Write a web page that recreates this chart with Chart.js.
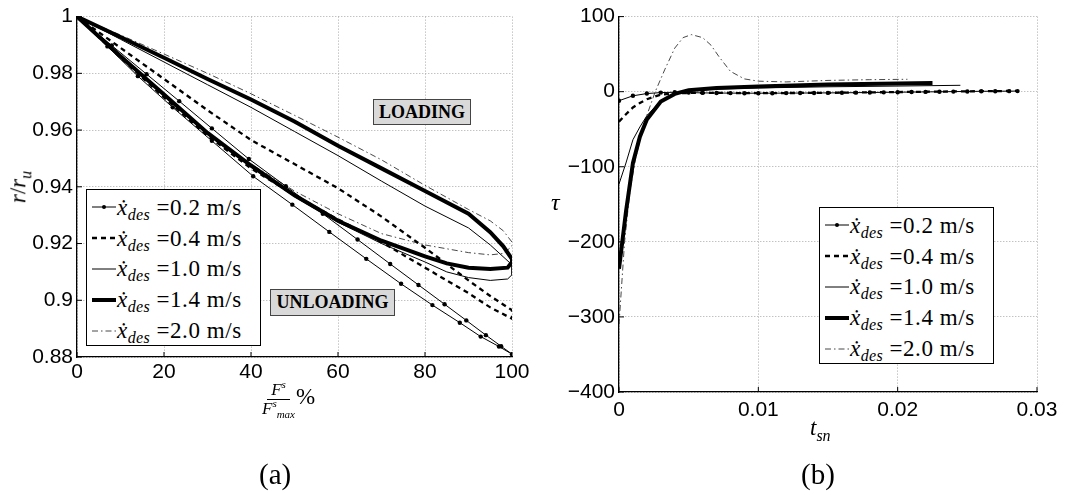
<!DOCTYPE html>
<html>
<head>
<meta charset="utf-8">
<script src="https://cdn.jsdelivr.net/npm/chart.js@4.4.0/dist/chart.umd.min.js"></script>
<style>
  html, body { margin: 0; padding: 0; background: #fff; }
  #wrap { position: relative; width: 1069px; height: 495px; overflow: hidden;
    font-family: "Liberation Serif", "DejaVu Serif", serif; color: #000; }
  canvas { position: absolute; }
  .legend { position: absolute; border: 1.5px solid #000; background: #fff; box-sizing: border-box; padding-top: 2px; }
  .lrow { height: 30.8px; display: flex; align-items: center; padding-left: 5px; white-space: nowrap; }
  .lrow svg { flex: none; margin-right: 1px; }
  .lt { font-size: 23px; line-height: 1; letter-spacing: 0.6px; }
  .lt sub { font-size: 16px; font-style: italic; vertical-align: -5px; line-height: 0; letter-spacing: 0.3px; }
  .tag { position: absolute; background: #d9d9d9; border: 1.3px solid #444; box-sizing: border-box;
    font-weight: bold; font-size: 18px; display: flex; align-items: center; justify-content: center; }
  .lbl { position: absolute; white-space: nowrap; line-height: 1; }
  .frac { display: inline-flex; flex-direction: column; align-items: center; vertical-align: middle; font-size: 17px; margin-right: 1px; }
  .frac .num { border-bottom: 1.4px solid #000; padding: 0 4px 1px; }
  .frac sup, .frac sub { font-size: 11px; font-style: italic; line-height: 0; }
  .cap { position: absolute; font-size: 29px; line-height: 1; }
</style>
</head>
<body>
<div id="wrap">
  <canvas id="chartA" width="540" height="400" style="left:0;top:0"></canvas>
  <canvas id="chartB" width="529" height="420" style="left:540px;top:0"></canvas>

  <div class="tag" style="left:373px;top:99px;width:98px;height:26px">LOADING</div>
  <div class="tag" style="left:270px;top:289px;width:125px;height:27px">UNLOADING</div>

  <div class="legend" id="legA" style="left:86px;top:189px;width:175px;height:157px"></div>
  <div class="legend" id="legB" style="left:819px;top:207px;width:175px;height:157px"></div>

  <div class="lbl" style="left:4px;top:187px;transform:translate(0,-50%) rotate(-90deg);transform-origin:center;font-size:23px">
    <i>r</i>/<i>r</i><sub style="font-size:16px"><i>u</i></sub></div>
  <div class="lbl" style="left:262px;top:381px;font-size:23px">
    <span class="frac"><span class="num"><i>F</i><sup>s</sup></span><span><i>F</i><sup>s</sup><sub>max</sub></span></span>%</div>

  <div class="lbl" style="left:551px;top:190px;font-size:24px"><i>τ</i></div>
  <div class="lbl" style="left:810px;top:416px;font-size:23px"><i>t</i><sub style="font-size:16px"><i>sn</i></sub></div>

  <div class="cap" style="left:259px;top:460px">(a)</div>
  <div class="cap" style="left:801px;top:460px">(b)</div>
</div>

<script>
// ---------- legend ----------
const speeds = ["0.2", "0.4", "1.0", "1.4", "2.0"];

// ---------- (a) r/r_u vs F^s/F^s_max % (loading branch then unloading branch) ----------
const pct02 = [0, 8, 16, 23.5, 31, 39.5, 48, 56.5, 64.5, 72, 78.5, 84.5, 89.5, 94, 97.5, 100,
  97, 92.8, 88, 81.7, 74.5, 66.5, 58, 49.5, 40.5, 31, 22, 14, 7, 0];
const ratio02 = [1, 0.9898, 0.9797, 0.9702, 0.9606, 0.9498, 0.9402, 0.9305, 0.9214, 0.9128, 0.9054, 0.8986, 0.8929, 0.8877, 0.8838, 0.881,
  0.8837, 0.8872, 0.8921, 0.8983, 0.9058, 0.9146, 0.9241, 0.9337, 0.9437, 0.9562, 0.968, 0.979, 0.9895, 1];

const pct04 = [0, 10, 20, 30, 40, 50, 60, 70, 80, 90, 95, 100, 100, 95, 90, 85, 80, 70, 60, 50, 40, 30, 20, 10, 0];
const ratio04 = [1, 0.989, 0.978, 0.967, 0.9565, 0.948, 0.9395, 0.9295, 0.9185, 0.907, 0.9015, 0.8965,
  0.8935, 0.8975, 0.9025, 0.907, 0.9115, 0.9205, 0.9285, 0.937, 0.9465, 0.958, 0.9715, 0.9855, 1];

const pct10 = [0, 10, 20, 30, 40, 50, 60, 70, 80, 90, 95, 100, 100, 99, 95, 90, 85, 80, 70, 60, 50, 40, 30, 20, 10, 0];
const ratio10 = [1, 0.992, 0.984, 0.976, 0.968, 0.9595, 0.951, 0.942, 0.9332, 0.9255, 0.9195, 0.9125,
  0.909, 0.9075, 0.907, 0.908, 0.91, 0.9135, 0.92, 0.9275, 0.9365, 0.947, 0.9585, 0.972, 0.9855, 1];

const pct14 = [0, 10, 20, 30, 40, 50, 60, 70, 80, 90, 95, 98, 100, 100, 99, 95, 90, 85, 80, 70, 60, 50, 40, 30, 20, 10, 0];
const ratio14 = [1, 0.9928, 0.9855, 0.978, 0.9708, 0.963, 0.9545, 0.9465, 0.9385, 0.9305, 0.924, 0.919, 0.9145,
  0.9135, 0.9115, 0.911, 0.9115, 0.913, 0.9155, 0.921, 0.928, 0.937, 0.9475, 0.959, 0.9725, 0.986, 1];

const pct20 = [0, 10, 20, 30, 40, 50, 60, 70, 80, 90, 95, 98, 100, 100, 98, 95, 90, 80, 70, 60, 50, 40, 30, 20, 10, 0];
const ratio20 = [1, 0.9935, 0.9868, 0.98, 0.9728, 0.9652, 0.9575, 0.9495, 0.9405, 0.932, 0.928, 0.9245, 0.9205,
  0.919, 0.9165, 0.916, 0.9168, 0.9195, 0.9235, 0.9305, 0.9385, 0.948, 0.9592, 0.9725, 0.986, 1];

const xTicksA = [0, 20, 40, 60, 80, 100];
const xLabelsA = ["0", "20", "40", "60", "80", "100"];
const yTicksA = [0.88, 0.9, 0.92, 0.94, 0.96, 0.98, 1];
const yLabelsA = ["0.88", "0.9", "0.92", "0.94", "0.96", "0.98", "1"];

// ---------- (b) tau vs t_sn ----------
const tsn02 = [0, 0.001, 0.002, 0.003, 0.004, 0.005, 0.006, 0.007, 0.008, 0.009, 0.01, 0.011, 0.012, 0.013, 0.014,
  0.015, 0.016, 0.017, 0.018, 0.019, 0.02, 0.021, 0.022, 0.023, 0.024, 0.025, 0.026, 0.027, 0.028, 0.0286];
const tau02 = [-12, -5.5, -2.5, -1.2, -0.8, -1.2, -1.6, -1.8, -1.9, -2, -2, -2, -1.9, -1.8, -1.7,
  -1.6, -1.5, -1.3, -1.1, -0.9, -0.7, -0.5, -0.3, -0.1, 0.1, 0.3, 0.5, 0.6, 0.7, 0.8];

const tsn04 = [0, 0.0005, 0.001, 0.0015, 0.002, 0.003, 0.004, 0.006, 0.008, 0.01, 0.015, 0.02, 0.025, 0.0285];
const tau04 = [-40, -30, -21, -15, -10, -4, -2, -1.5, -1.8, -2, -1.5, -0.5, 0.5, 1];

const tsn10 = [0, 0.0005, 0.001, 0.0015, 0.002, 0.003, 0.004, 0.005, 0.007, 0.01, 0.015, 0.02, 0.0245];
const tau10 = [-123, -95, -64, -47, -32, -12, -3, 1, 3.5, 5, 6.5, 7.5, 8.5];

const tsn14 = [0, 0.0005, 0.001, 0.0015, 0.002, 0.003, 0.004, 0.005, 0.007, 0.01, 0.015, 0.02, 0.0225];
const tau14 = [-236, -160, -95, -60, -37, -13, -3, 2, 5, 7, 9.5, 11, 11.5];

const tsn20 = [0, 0.0004, 0.0008, 0.0012, 0.0018, 0.0026, 0.0033, 0.004, 0.0046, 0.0052, 0.006, 0.0066, 0.0072,
  0.008, 0.009, 0.01, 0.012, 0.015, 0.018, 0.0207];
const tau20 = [-310, -200, -130, -88, -42, 0, 30, 58, 72, 76, 72, 62, 46, 27, 17, 14, 13, 15, 16, 16.5];

const xTicksB = [0, 0.01, 0.02, 0.03];
const xLabelsB = ["0", "0.01", "0.02", "0.03"];
const yTicksB = [-400, -300, -200, -100, 0, 100];
const yLabelsB = ["\u2212400", "\u2212300", "\u2212200", "\u2212100", "0", "100"];

// ---------- styles ----------
const lineStyles = [
  { w: 1, dash: [], pt: 2.2, color: "#000" },
  { w: 2.3, dash: [5, 4], pt: 0, color: "#000" },
  { w: 1, dash: [], pt: 0, color: "#000" },
  { w: 4, dash: [], pt: 0, color: "#000" },
  { w: 0.9, dash: [6, 3, 1.5, 3], pt: 0, color: "#333" },
];
const tickFont = { family: "'Liberation Sans', Arial, sans-serif", size: 21 };

function toPoints(xs, ys) {
  return xs.map((x, i) => ({ x, y: ys[i] }));
}

function makeSets(pairs) {
  return pairs.map(([xs, ys], i) => {
    const st = lineStyles[i];
    return {
      label: speeds[i],
      data: toPoints(xs, ys),
      showLine: true,
      borderColor: st.color,
      borderWidth: st.w,
      borderDash: st.dash,
      pointRadius: st.pt,
      pointBackgroundColor: "#000",
      pointBorderWidth: 0,
      tension: 0,
      fill: false,
    };
  });
}

// small tick marks pointing inwards (matlab style)
const innerTicks = {
  id: "innerTicks",
  afterDatasetsDraw(chart) {
    const { ctx, chartArea: a, scales: { x, y } } = chart;
    ctx.save();
    ctx.strokeStyle = "#000";
    ctx.lineWidth = 1;
    x.ticks.forEach((t) => {
      const px = x.getPixelForValue(t.value);
      ctx.beginPath(); ctx.moveTo(px, a.bottom); ctx.lineTo(px, a.bottom - 5); ctx.stroke();
    });
    y.ticks.forEach((t) => {
      const py = y.getPixelForValue(t.value);
      ctx.beginPath(); ctx.moveTo(a.left, py); ctx.lineTo(a.left + 5, py); ctx.stroke();
    });
    ctx.restore();
  },
};

function axis(ticks, labels, fit, pad) {
  return {
    type: "linear",
    min: ticks[0],
    max: ticks[ticks.length - 1],
    afterBuildTicks: (s) => { s.ticks = ticks.map((v) => ({ value: v })); },
    afterFit: fit,
    ticks: {
      callback: (v, i) => labels[i],
      font: tickFont, color: "#000", padding: pad,
      autoSkip: false, maxRotation: 0,
    },
    grid: { color: "#a8a8a8", lineWidth: 1, drawTicks: false },
    border: { color: "#000", width: 1.3, dash: [1, 2] },
  };
}

function makeChart(id, sets, sx, sy, padding) {
  return new Chart(document.getElementById(id), {
    type: "scatter",
    data: { datasets: sets },
    options: {
      responsive: false,
      devicePixelRatio: 1,
      animation: false,
      layout: { padding },
      plugins: { legend: { display: false }, tooltip: { enabled: false } },
      scales: { x: sx, y: sy },
    },
    plugins: [innerTicks],
  });
}

makeChart("chartA",
  makeSets([[pct02, ratio02], [pct04, ratio04], [pct10, ratio10], [pct14, ratio14], [pct20, ratio20]]),
  axis(xTicksA, xLabelsA, (s) => { s.height = 43; }, 3),
  axis(yTicksA, yLabelsA, (s) => { s.width = 77; }, 4),
  { top: 14, right: 28, left: 0, bottom: 0 });

makeChart("chartB",
  makeSets([[tsn02, tau02], [tsn04, tau04], [tsn10, tau10], [tsn14, tau14], [tsn20, tau20]]),
  axis(xTicksB, xLabelsB, (s) => { s.height = 28; }, 6),
  axis(yTicksB, yLabelsB, (s) => { s.width = 79; }, 4),
  { top: 15, right: 32, left: 0, bottom: 0 });

// ---------- html legends ----------
function legendHTML() {
  return speeds.map((s, i) => {
    const st = lineStyles[i];
    const dash = st.dash.length ? `stroke-dasharray="${st.dash.join(" ")}"` : "";
    const dot = st.pt ? `<circle cx="12" cy="7" r="2" fill="#000"/>` : "";
    return `<div class="lrow"><svg width="24" height="14"><line x1="0" y1="7" x2="24" y2="7" stroke="${st.color}" stroke-width="${st.w}" ${dash}/>${dot}</svg>` +
      `<span class="lt"><i>\u1E8B</i><sub>des</sub> =${s} m/s</span></div>`;
  }).join("");
}
document.getElementById("legA").innerHTML = legendHTML();
document.getElementById("legB").innerHTML = legendHTML();
</script>
</body>
</html>
